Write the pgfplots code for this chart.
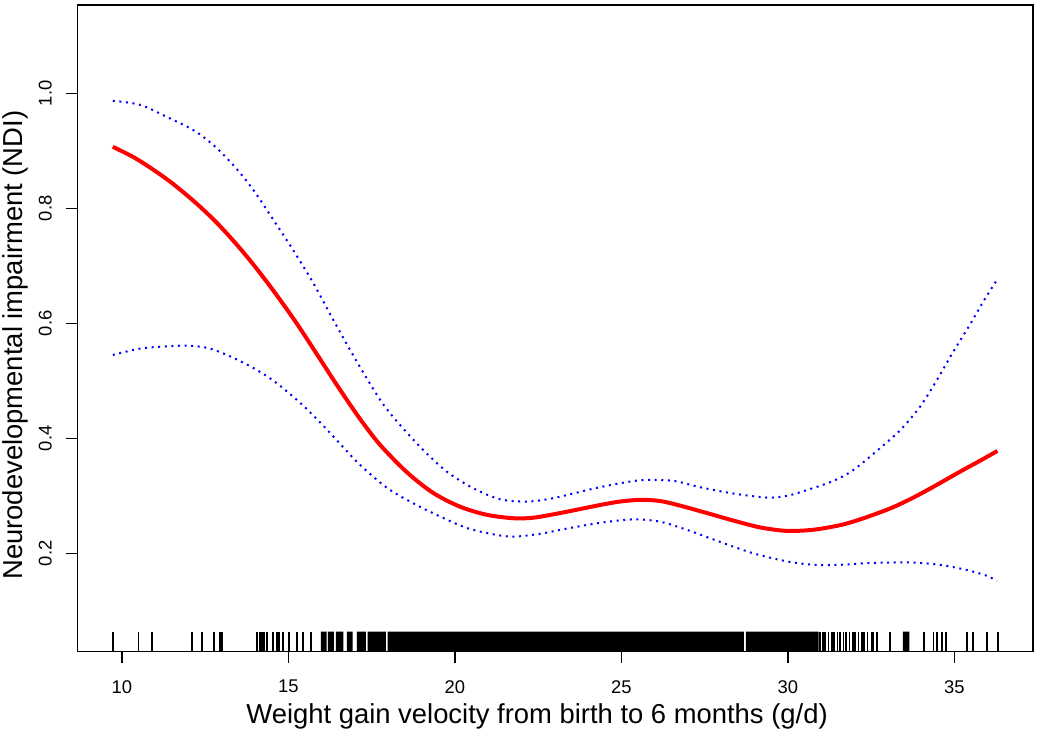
\documentclass[border=0pt]{standalone}
\usepackage{fontspec}
\setmainfont{Liberation Sans}
\usepackage{pgfplots}
\pgfplotsset{compat=1.18}

\begin{document}
\begin{tikzpicture}
\path[use as bounding box] (-38.75pt,-43.65pt) rectangle (481.25pt,325.85pt);
\begin{axis}[
  at={(0,0)}, anchor=south west,
  scale only axis, width=477.75pt, height=323.35pt,
  xmin=8.67, xmax=37.36, ymin=0.0289, ymax=1.1536,
  xtick={10,15,20,25,30,35},
  ytick={0.2,0.4,0.6,0.8,1.0},
  tick pos=left, tick align=outside, major tick length=5.5pt,
  tick style={black, line width=0.8pt},
  axis line style={line width=0.8pt},
  /pgf/number format/assume math mode=true,
  ticklabel style={font=\fontsize{9.2}{10}\selectfont},
  xticklabel style={anchor=north, inner xsep=0pt, inner ysep=8.6pt},
  yticklabel style={rotate=90, anchor=south, inner xsep=0pt, inner ysep=7.1pt,
    /pgf/number format/fixed, /pgf/number format/fixed zerofill,
    /pgf/number format/precision=1},
  xlabel={Weight gain velocity from birth to 6 months (g/d)},
  ylabel={Neurodevelopmental impairment (NDI)},
  label style={font=\fontsize{13.7}{16}\selectfont, inner sep=0pt},
  xlabel style={at={(axis description cs:0.481,-0.1107)}, anchor=base},
  ylabel style={at={(axis description cs:-0.05704,0.474)}, anchor=base},
]

% rug of observed values
\addplot[ycomb, black, line width=0.9pt, no marks] coordinates {
  (9.73,0.064) (10.50,0.064) (10.90,0.064) (12.10,0.064) (12.42,0.064)
  (12.77,0.064) (12.95,0.064) (13.01,0.064) (14.05,0.064) (14.15,0.064)
  (14.21,0.064) (14.26,0.064) (14.35,0.064) (14.55,0.064) (14.66,0.064)
  (14.72,0.064) (14.83,0.064) (15.03,0.064) (15.25,0.064) (15.45,0.064)
  (15.67,0.064) (30.97,0.064) (31.05,0.064) (31.12,0.064) (31.22,0.064)
  (31.32,0.064) (31.39,0.064) (31.49,0.064) (31.57,0.064) (31.67,0.064)
  (31.75,0.064) (31.85,0.064) (31.95,0.064) (32.02,0.064) (32.12,0.064)
  (32.22,0.064) (32.29,0.064) (32.39,0.064) (32.52,0.064) (32.57,0.064)
  (32.67,0.064) (33.07,0.064) (34.09,0.064) (34.37,0.064) (34.47,0.064)
  (34.62,0.064) (34.75,0.064) (35.37,0.064) (35.57,0.064) (35.97,0.064)
  (36.32,0.064)
};
% dense part of the rug
\addplot[fill=black, draw=none, no marks] coordinates {
  (15.98,0) (15.98,0.064) (16.15,0.064) (16.15,0)
  (16.19,0) (16.19,0.064) (16.37,0.064) (16.37,0)
  (16.43,0) (16.43,0.064) (16.65,0.064) (16.65,0)
  (16.76,0) (16.76,0.064) (16.93,0.064) (16.93,0)
  (17.06,0) (17.06,0.064) (17.33,0.064) (17.33,0)
  (17.38,0) (17.38,0.064) (17.93,0.064) (17.93,0)
  (17.98,0) (17.98,0.064) (28.68,0.064) (28.68,0)
  (28.74,0) (28.74,0.064) (30.92,0.064) (30.92,0)
  (33.45,0) (33.45,0.064) (33.65,0.064) (33.65,0)
} -- cycle;

% upper 95% CI
\addplot[blue, line width=1pt, dash pattern=on 1pt off 2.3pt, smooth, no marks] coordinates {
  (9.73,0.987) (10.55,0.980) (11.35,0.959) (12.15,0.936) (12.75,0.910)
  (13.35,0.875) (13.95,0.832) (14.55,0.780) (15.15,0.727) (15.75,0.670)
  (16.35,0.606) (17.00,0.539) (17.70,0.472) (18.15,0.437) (18.96,0.385)
  (19.76,0.342) (20.56,0.313) (21.36,0.294) (22.16,0.290) (22.96,0.296)
  (24.36,0.315) (25.56,0.327) (26.56,0.326) (27.36,0.315) (28.36,0.304)
  (29.37,0.297) (29.97,0.300) (30.57,0.310) (31.37,0.326) (31.97,0.345)
  (32.77,0.383) (33.37,0.414) (33.97,0.455) (34.47,0.501)
  (34.97,0.551) (35.47,0.598) (35.87,0.638) (36.27,0.675)
};
% lower 95% CI
\addplot[blue, line width=1pt, dash pattern=on 1pt off 2.3pt, smooth, no marks] coordinates {
  (9.73,0.545) (10.55,0.556) (11.35,0.560) (12.05,0.561) (12.65,0.556)
  (13.35,0.540) (14.05,0.519) (14.65,0.496) (15.35,0.462) (15.95,0.428)
  (16.53,0.392) (17.15,0.354) (17.96,0.314) (18.75,0.287) (19.56,0.264)
  (20.36,0.244) (21.16,0.233) (21.76,0.229) (22.56,0.234) (23.36,0.243)
  (24.36,0.253) (25.36,0.259) (26.16,0.255) (26.96,0.241) (27.96,0.220)
  (28.96,0.200) (29.97,0.186) (30.77,0.180) (31.57,0.180) (32.37,0.183)
  (33.17,0.184) (33.77,0.184) (34.57,0.180) (35.37,0.171) (35.97,0.161)
  (36.27,0.152)
};
% fitted curve
\addplot[red, line width=2pt, smooth, no marks] coordinates {
  (9.73,0.907) (10.35,0.889) (10.95,0.867) (11.55,0.842) (12.25,0.808)
  (12.85,0.775) (13.45,0.737) (14.05,0.695) (14.65,0.649) (15.25,0.600)
  (15.85,0.547) (16.50,0.489) (17.15,0.434) (17.75,0.389) (18.56,0.341)
  (19.35,0.305) (20.16,0.281) (20.96,0.267) (21.76,0.261) (22.36,0.262)
  (23.16,0.270) (24.36,0.284) (24.96,0.290) (25.56,0.293) (26.16,0.291)
  (26.76,0.283) (27.57,0.270) (28.36,0.257) (29.17,0.245) (29.97,0.239)
  (30.77,0.241) (31.57,0.249) (32.17,0.259) (33.07,0.278) (33.77,0.297)
  (34.47,0.319) (35.17,0.342) (35.77,0.361) (36.29,0.378)
};
\end{axis}
\end{tikzpicture}
\end{document}
